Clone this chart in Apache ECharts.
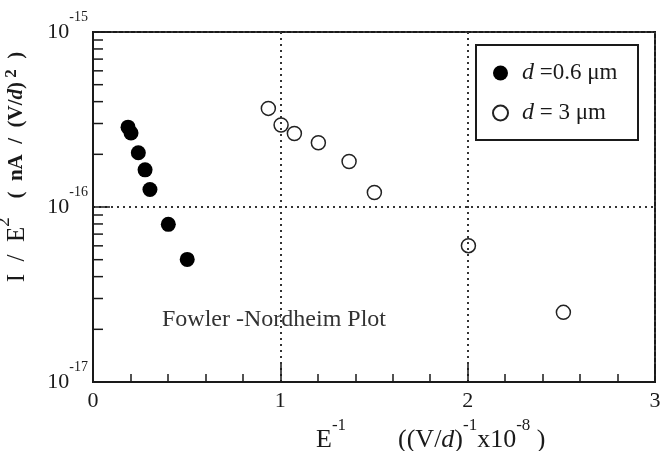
<!DOCTYPE html>
<html>
<head>
<meta charset="utf-8">
<script src="https://cdn.jsdelivr.net/npm/echarts@6/dist/echarts.min.js"></script>
<style>html,body{margin:0;padding:0;background:#fff;}#c{width:665px;height:451px;}</style>
</head>
<body>
<div id="c"></div>
<script>
// Data
const seriesNames = ['d=0.6um', 'd=3um'];
const xThin = [0.187, 0.203, 0.242, 0.278, 0.304, 0.402, 0.503];
const yThin = [2.86e-16, 2.65e-16, 2.04e-16, 1.63e-16, 1.26e-16, 7.96e-17, 5.02e-17];
const xThick = [0.936, 1.004, 1.075, 1.203, 1.367, 1.502, 2.004, 2.511];
const yThick = [3.66e-16, 2.94e-16, 2.63e-16, 2.33e-16, 1.82e-16, 1.21e-16, 6.01e-17, 2.50e-17];
const yMinorTicks = [2e-17,3e-17,4e-17,5e-17,6e-17,7e-17,8e-17,9e-17,2e-16,3e-16,4e-16,5e-16,6e-16,7e-16,8e-16,9e-16];
const xMin = 0, xMax = 3, xInterval = 1;
const yMin = 1e-17, yMax = 1e-15;

const FONT = '"Liberation Serif", "DejaVu Serif", serif';
const INK = '#1a1a1a';

const chart = echarts.init(document.getElementById('c'), null, {renderer: 'canvas'});
const dotted = {color: '#333', width: 2, type: [2, 4]};

chart.setOption({
  backgroundColor: '#fff',
  animation: false,
  grid: {left: 93, right: 10, top: 32, bottom: 69, show: true, borderColor: INK, borderWidth: 2, backgroundColor: 'transparent'},
  xAxis: {
    type: 'value', min: xMin, max: xMax, interval: xInterval,
    axisLine: {lineStyle: {color: INK, width: 2}},
    axisTick: {inside: true, length: 18, lineStyle: {color: INK, width: 1.5}},
    minorTick: {show: true, splitNumber: 5, length: 8, lineStyle: {color: INK, width: 1.5}},
    axisLabel: {fontFamily: FONT, fontSize: 22, color: INK, margin: 8},
    splitLine: {show: true, lineStyle: dotted}
  },
  yAxis: {
    type: 'log', logBase: 10, min: yMin, max: yMax,
    axisLine: {lineStyle: {color: INK, width: 2}},
    axisTick: {inside: true, length: 17, lineStyle: {color: INK, width: 1.5}},
    axisLabel: {
      margin: 5, color: INK,
      formatter: v => '{b|10}{s|' + Math.round(Math.log10(v)) + '}',
      rich: {
        b: {fontFamily: FONT, fontSize: 22, color: INK},
        s: {fontFamily: FONT, fontSize: 14, color: INK, padding: [0, 0, 30, 0]}
      }
    },
    splitLine: {show: true, lineStyle: dotted}
  },
  legend: {
    data: seriesNames, orient: 'vertical', left: 492, top: 60, padding: 0,
    itemGap: 14, itemWidth: 15, itemHeight: 15,
    formatter: n => n === seriesNames[0] ? '{i|d} =0.6 μm' : '{i|d} = 3 μm',
    textStyle: {
      fontFamily: FONT, fontSize: 23, color: INK, lineHeight: 26, padding: [0, 0, 0, 9],
      rich: {i: {fontFamily: FONT, fontSize: 24, fontStyle: 'italic', color: INK, lineHeight: 26}}
    }
  },
  graphic: [
    {type: 'rect', z: 1, shape: {x: 476, y: 45, width: 162, height: 95}, style: {fill: '#fff', stroke: INK, lineWidth: 2}},
    {type: 'text', left: 162, top: 308, style: {text: 'Fowler -Nordheim Plot', fontFamily: FONT, fontSize: 24, fill: '#333'}},
    {type: 'text', x: 316, y: 440, style: {
      text: '{m|E}{s|-1}{m|        ((V/}{mi|d}{m|)}{s|-1}{m|x10}{s|-8}{m| )}',
      verticalAlign: 'middle', align: 'left',
      rich: {
        m: {fontFamily: FONT, fontSize: 26, fill: INK},
        mi: {fontFamily: FONT, fontSize: 26, fontStyle: 'italic', fill: INK},
        s: {fontFamily: FONT, fontSize: 17, fill: INK, padding: [0, 0, 28, 0]}
      }
    }},
    {type: 'text', x: 17, y: 167, rotation: Math.PI / 2, style: {
      text: '{m|I  /  E}{s|2}{m|   }{n|(  nA  /  (V/}{ni|d}{n|)}{s2| 2}{n|  )}',
      verticalAlign: 'middle', align: 'center',
      rich: {
        m: {fontFamily: FONT, fontSize: 25, fill: INK},
        s: {fontFamily: FONT, fontSize: 19, fill: INK, padding: [0, 0, 26, 0]},
        n: {fontFamily: FONT, fontSize: 21, fontWeight: 'bold', fill: INK},
        ni: {fontFamily: FONT, fontSize: 21, fontWeight: 'bold', fontStyle: 'italic', fill: INK},
        s2: {fontFamily: FONT, fontSize: 17, fontWeight: 'bold', fill: INK, padding: [0, 0, 10, 0]}
      }
    }}
  ],
  series: [
    {
      name: seriesNames[0], type: 'scatter', z: 5, symbol: 'circle', symbolSize: 15,
      itemStyle: {color: '#000', opacity: 1},
      data: xThin.map((x, i) => [x, yThin[i]])
    },
    {
      name: seriesNames[1], type: 'scatter', z: 5, symbol: 'circle', symbolSize: 14,
      itemStyle: {color: 'rgba(255,255,255,0)', borderColor: '#222', borderWidth: 1.5, opacity: 1},
      data: xThick.map((x, i) => [x, yThick[i]])
    },
    {
      name: 'minorY', type: 'custom', silent: true, z: 3,
      data: yMinorTicks.map(v => [0, v]),
      renderItem: (params, api) => {
        const p = api.coord([0, api.value(1)]);
        return {type: 'line', shape: {x1: p[0], y1: p[1], x2: p[0] + 10, y2: p[1]}, style: {stroke: INK, lineWidth: 1.5}};
      }
    }
  ]
});
</script>
</body>
</html>
